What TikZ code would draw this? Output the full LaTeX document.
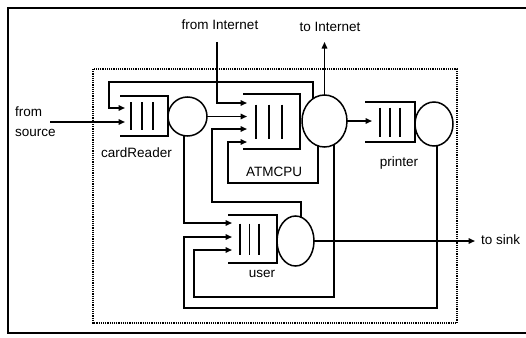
\documentclass[tikz,border=0pt]{standalone}
\usepackage{fontspec}
\setmainfont{Liberation Sans}
\usetikzlibrary{shapes.geometric,arrows.meta,calc}
\newcommand\qbars[4]{%
  \draw[ln] (#1.north west) -- (#1.north east) -- (#1.south east) -- (#1.south west);
  \foreach \k in {-1,0,1}{
    \draw[ln] ($(#1.center)+({#2+(\k)*(#3)},{-#4})$) -- ($(#1.center)+({#2+(\k)*(#3)},{#4})$);
  }}
\begin{document}
\begin{tikzpicture}[x=1pt,y=-1pt,
  lbl/.style={inner sep=0pt,font=\fontsize{13.5}{20}\selectfont},
  ln/.style={line width=1.5pt},
  arr/.style={ln,-{Triangle[length=6.5pt,width=5.5pt]}},
  qnode/.style={rectangle,inner sep=0pt,outer sep=0pt},
  srv/.style={ellipse,draw,ln,inner sep=0pt,outer sep=0pt}]
\useasboundingbox (0,0) rectangle (526,337);
% frames
\draw[line width=1.2pt] (526,8) -- (8,8) -- (8,333) -- (526,333);
\draw[densely dotted,line width=1.2pt] (93,69) rectangle (457,323);
% queues
\node[qnode,minimum width=48pt,minimum height=40pt] (crq) at (144,116) {};
\node[qnode,minimum width=57pt,minimum height=55pt] (cpq) at (271.5,121.5) {};
\node[qnode,minimum width=50pt,minimum height=40pt] (prq) at (390,122) {};
\node[qnode,minimum width=49pt,minimum height=48pt] (usq) at (252.5,239) {};
\qbars{crq}{-2}{11}{14}
\qbars{cpq}{-2.5}{13}{17}
\qbars{prq}{0}{10}{14.5}
\qbars{usq}{-3}{9.5}{15.5}
% servers
\node[srv,minimum width=39pt,minimum height=39pt] (crc) at (187.5,116.5) {};
\node[srv,minimum width=45pt,minimum height=52pt] (cpc) at (324.5,121) {};
\node[srv,minimum width=38pt,minimum height=44pt] (prc) at (434,124) {};
\node[srv,minimum width=37pt,minimum height=50pt] (usc) at (295.5,241) {};
% labels
\node[lbl,anchor=west,align=left] (srct) at (15,122) {from\\source};
\node[lbl] (crl) at (136.5,153) {cardReader};
\node[lbl] (cpl) at (274,172) {ATMCPU};
\node[lbl] (prl) at (399,163) {printer};
\node[lbl] (usl) at (262,274) {user};
\node[lbl,anchor=base] (fil) at (220,30) {from Internet};
\node[lbl,anchor=base] (til) at (330,31) {to Internet};
\node[lbl,anchor=west] (skl) at (481,240) {to sink};
% free ends
\coordinate (src) at (50,122);
\coordinate (fromI) at (217,42);
\coordinate (toI) at (324.5,42);
\coordinate (sink) at (475,241);
% connectors
\draw[arr] (src) -- ($(crq.west)+(5,6)$);
\draw[arr] (cpc.117) |- (109,82) |- ($(crq.west)+(5,-8)$);
\draw[arr] (fromI) |- ($(cpq.west)+(4,-18.5)$);
\draw[arr] (crc.east) -- ($(crc.east -| cpq.west)+(4,0)$);
\draw[arr] (usc.77) |- (212,202) |- ($(cpq.west)+(4,7.5)$);
\draw[arr] (cpc.-105) |- (228,183) |- ($(cpq.west)+(4,20.5)$);
\draw[arr] (cpc.north) -- (toI);
\draw[arr] (cpc.east) -- ($(cpc.east -| prq.west)+(7,0)$);
\draw[arr] (crc.-100) |- ($(usq.west)+(4,-16)$);
\draw[arr] (prc.-82) |- (184,308) |- ($(usq.west)+(4,-2)$);
\draw[arr] (cpc.-68) |- (194,297) |- ($(usq.west)+(4,11)$);
\draw[arr] (usc.east) -- (sink);
\end{tikzpicture}
\end{document}
